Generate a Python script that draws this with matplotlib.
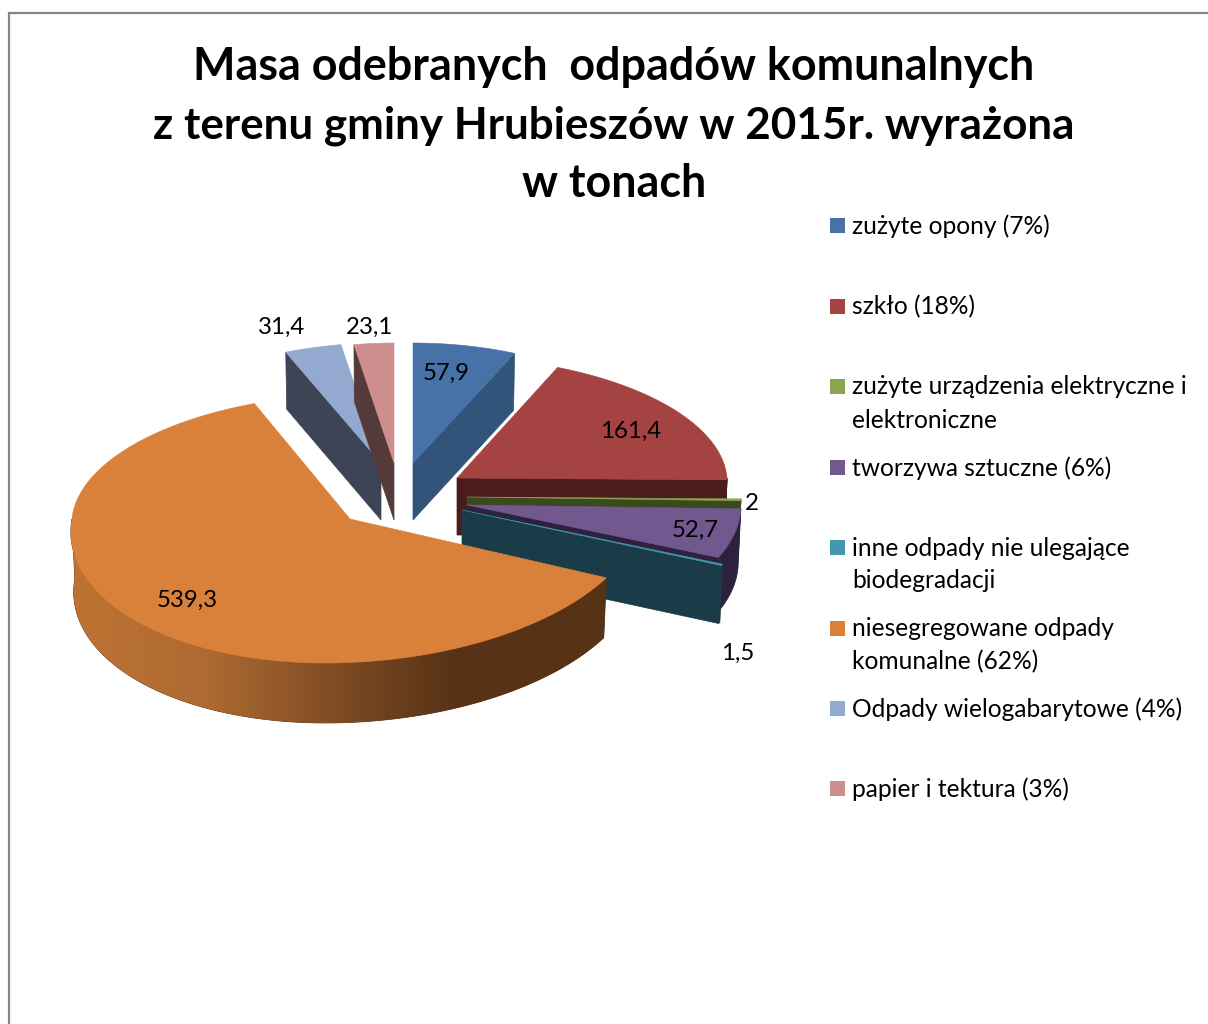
import numpy as np
import matplotlib
matplotlib.use("Agg")
import matplotlib.pyplot as plt
from matplotlib.patches import Polygon, Rectangle
from matplotlib.colors import LinearSegmentedColormap

values = [57.9, 161.4, 2, 52.7, 1.5, 539.3, 31.4, 23.1]
value_labels = ["57,9", "161,4", "2", "52,7", "1,5", "539,3", "31,4", "23,1"]
legend_labels = [
    "zużyte opony (7%)",
    "szkło (18%)",
    "zużyte urządzenia elektryczne i\nelektroniczne",
    "tworzywa sztuczne (6%)",
    "inne odpady nie ulegające\nbiodegradacji",
    "niesegregowane odpady\nkomunalne (62%)",
    "Odpady wielogabarytowe (4%)",
    "papier i tektura (3%)",
]
title_lines = ["Masa odebranych  odpadów komunalnych",
               "z terenu gminy Hrubieszów w 2015r. wyrażona",
               "w tonach"]

top_colors = ["#4672A8", "#A54242", "#89A54E", "#71588F", "#4198AF", "#D9803B", "#93A9CF", "#CE8E8D"]
wall_colors = ["#32547A", "#4B1C1C", "#3C481E", "#2D213E", "#1A3C48", "#5A3416", "#3C4455", "#553A3A"]

# Layout of each exploded slice, in pixels
cxs = [413, 457, 467, 467, 462, 350, 381, 394]
cys = [463, 478, 497, 505, 510, 519, 463, 463]
rx_right = [250, 270, 274, 274, 284, 292, 253, 241]
rx_left = [250, 270, 274, 274, 284, 278, 253, 241]
far = [120, 121, 121, 121, 121, 125, 120, 120]
near = [130, 130, 130, 132, 136, 144, 130, 130]
lean_far = [0, -10, 0, 0, 0, 12, 2, 0]
lean_near = [0, -10, 0, 0, 0, 25, 2, 0]
depth = [57, 57, 57, 57, 58, 60, 57, 57]
order = [0, 6, 7, 1, 2, 3, 4, 5]

label_xy = [(446, 373), (631, 431), (752, 503), (695, 530), (738, 653), (187, 600), (282, 327), (370, 327)]
legend_y = [226, 307, 387, 468, 548, 629, 709, 789]
title_y = [67, 126, 184]
title_size = [32.3, 31.7, 32.3]

FONT = "Lato"
fig = plt.figure(figsize=(12.08, 10.24), dpi=100, facecolor="white")
ax = fig.add_axes([0, 0, 1, 1])

ax.plot([8.5, 8.5, 1208], [1024, 13, 13], color="#868686", lw=1.6, solid_joinstyle="miter")

total = sum(values)
edges = np.concatenate([[0], np.cumsum(values)]) / total * 360.0

orange_wall = LinearSegmentedColormap.from_list(
    "w", [(0, "#BE7332"), (0.25, "#AE6A32"), (0.5, "#7D4B23"), (0.72, "#573216"), (1, "#583416")])


def pt(i, deg, dz=0.0):
    t = np.radians(deg)
    s, c = np.sin(t), np.cos(t)
    ry = far[i] if c >= 0 else near[i]
    rx = rx_right[i] if s >= 0 else rx_left[i]
    ln = lean_far[i] if c >= 0 else lean_near[i]
    off = rx * s + ln * c
    if dz:
        off *= 0.99
    return np.array([cxs[i] + off, cys[i] - ry * c + dz])


for i in order:
    a0, a1 = edges[i], edges[i + 1]
    d = depth[i]
    apex = np.array([cxs[i], cys[i]], float)
    apex_low = apex + [0, d]
    z = 10 + order.index(i)
    if np.sin(np.radians(a0)) < -1e-6:
        ax.add_patch(Polygon([apex, pt(i, a0), pt(i, a0, d), apex_low],
                             fc=wall_colors[i], ec=wall_colors[i], lw=0.5, zorder=z))
    if np.sin(np.radians(a1)) > 1e-6:
        ax.add_patch(Polygon([apex, pt(i, a1), pt(i, a1, d), apex_low],
                             fc=wall_colors[i], ec=wall_colors[i], lw=0.5, zorder=z))
    lo, hi = max(a0, 90), min(a1, 270)
    if hi > lo:
        angs = np.linspace(lo, hi, int((hi - lo) * 2) + 2)
        ring = [pt(i, a) for a in angs] + [pt(i, a, d) for a in angs[::-1]]
        wall = Polygon(ring, fc=wall_colors[i], ec=wall_colors[i], lw=0.5, zorder=z)
        ax.add_patch(wall)
        if i == 5:
            im = ax.imshow(np.linspace(0, 1, 536)[None, :], cmap=orange_wall, extent=(72, 608, 740, 500),
                           aspect="auto", zorder=z + 0.1, interpolation="bilinear")
            im.set_clip_path(wall)
    angs = np.linspace(a0, a1, max(int(a1 - a0) * 2, 2) + 1)
    outline = [apex] + [pt(i, a) for a in angs]
    ax.add_patch(Polygon(outline, fc=top_colors[i], ec=top_colors[i], lw=0.4, zorder=z + 0.5))

ax.set_xlim(0, 1208)
ax.set_ylim(1024, 0)
ax.axis("off")

for txt, (x, y) in zip(value_labels, label_xy):
    ax.text(x, y, txt, ha="center", va="center", fontsize=17.3, family=FONT, color="black", zorder=50)

for y, fs, line in zip(title_y, title_size, title_lines):
    ax.text(614, y, line, ha="center", va="center", fontsize=fs, family=FONT, fontweight="bold",
            color="black", zorder=50)

for y, c, lab in zip(legend_y, top_colors, legend_labels):
    ax.add_patch(Rectangle((830, y - 8.5), 15, 15, fc=c, ec="none", zorder=50))
    for k, part in enumerate(lab.split("\n")):
        ax.text(852, y + k * 33, part, ha="left", va="center", fontsize=17.65, family=FONT, color="black", zorder=50)

fig.savefig("out.png", dpi=100, facecolor="white")
